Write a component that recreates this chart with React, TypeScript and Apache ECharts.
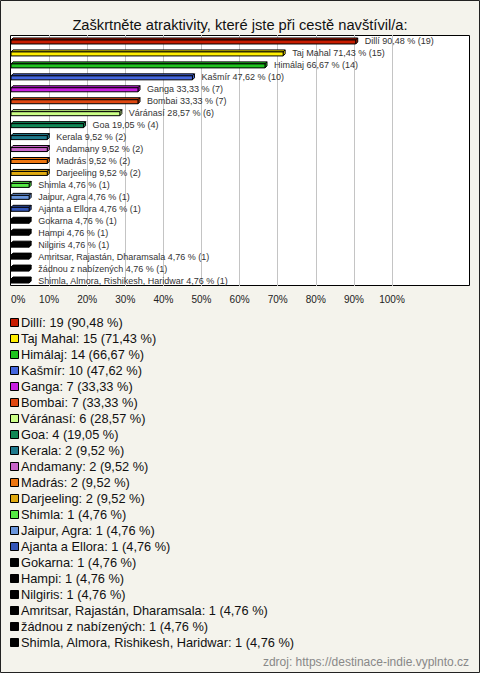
import React, { useEffect, useRef } from "react";
import * as echarts from "echarts";

const TITLE = "Zaškrtněte atraktivity, které jste při cestě navštívil/a:";
const SOURCE = "zdroj: https://destinace-indie.vyplnto.cz";

const categories = [
  "Dillí",
  "Taj Mahal",
  "Himálaj",
  "Kašmír",
  "Ganga",
  "Bombai",
  "Váránasí",
  "Goa",
  "Kerala",
  "Andamany",
  "Madrás",
  "Darjeeling",
  "Shimla",
  "Jaipur, Agra",
  "Ajanta a Ellora",
  "Gokarna",
  "Hampi",
  "Nilgiris",
  "Amritsar, Rajastán, Dharamsala",
  "žádnou z nabízených",
  "Shimla, Almora, Rishikesh, Haridwar",
];

const counts = [19, 15, 14, 10, 7, 7, 6, 4, 2, 2, 2, 2, 1, 1, 1, 1, 1, 1, 1, 1, 1];

const percents = [
  90.48, 71.43, 66.67, 47.62, 33.33, 33.33, 28.57, 19.05, 9.52, 9.52, 9.52, 9.52,
  4.76, 4.76, 4.76, 4.76, 4.76, 4.76, 4.76, 4.76, 4.76,
];

const colors = [
  "#c81c00",
  "#ffee00",
  "#1fc41f",
  "#4466dd",
  "#c81ee0",
  "#e04812",
  "#ccff88",
  "#118855",
  "#1f7a8c",
  "#c864c8",
  "#ee7711",
  "#e0aa10",
  "#55e844",
  "#6a96dc",
  "#3355b8",
  "#000000",
  "#000000",
  "#000000",
  "#000000",
  "#000000",
  "#000000",
];

const xTicks = [0, 10, 20, 30, 40, 50, 60, 70, 80, 90, 100];

const FONT = 'Arial, "Liberation Sans", sans-serif';

function fmt(v: number) {
  return v.toFixed(2).replace(".", ",");
}

export default function App() {
  const ref = useRef<HTMLDivElement>(null);

  useEffect(() => {
    if (!ref.current) return;
    const chart = echarts.init(ref.current, undefined, { renderer: "svg" });

    const data = categories.map((c, i) => [percents[i], i]);

    const legendEls: any[] = [];
    categories.forEach((c, i) => {
      const yc = 322.5 + 16 * i;
      legendEls.push({
        type: "rect",
        shape: { x: 10.5, y: yc - 4, width: 8, height: 8 },
        style: { fill: colors[i], stroke: "#000", lineWidth: 1 },
      });
      legendEls.push({
        type: "text",
        x: 21,
        y: yc,
        style: {
          text: `${c}: ${counts[i]} (${fmt(percents[i])} %)`,
          font: `12.8px ${FONT}`,
          fill: "#111",
          verticalAlign: "middle",
          align: "left",
        },
      });
    });

    chart.setOption({
      animation: false,
      backgroundColor: "#f4f3ec",
      title: {
        text: TITLE,
        left: "center",
        top: 12,
        textStyle: { fontFamily: FONT, fontSize: 14.7, fontWeight: "normal", color: "#111" },
      },
      grid: { left: 11, top: 35, width: 381, height: 251, containLabel: false },
      xAxis: {
        type: "value",
        min: xTicks[0],
        max: xTicks[xTicks.length - 1],
        interval: 10,
        axisLine: { show: false },
        axisTick: { show: false },
        axisLabel: {
          formatter: "{value}%",
          fontFamily: FONT,
          fontSize: 10,
          color: "#222",
          margin: 8,
          alignMinLabel: "left",
        },
        splitLine: { show: true, showMinLine: false, lineStyle: { color: "#c4c4c4", width: 1 } },
      },
      yAxis: {
        type: "category",
        data: categories,
        inverse: true,
        show: false,
      },
      graphic: [
        {
          type: "rect",
          z: -1,
          shape: { x: 10.5, y: 35.5, width: 459, height: 250 },
          style: { fill: "#ffffff", stroke: "#000", lineWidth: 1 },
        },
        {
          type: "rect",
          z: 100,
          shape: { x: 0.5, y: 0.5, width: 479, height: 672 },
          style: { fill: "none", stroke: "#222", lineWidth: 1 },
        },
        ...legendEls,
        {
          type: "text",
          x: 469,
          y: 662,
          style: {
            text: SOURCE,
            font: `12px ${FONT}`,
            fill: "#888",
            align: "right",
            verticalAlign: "middle",
          },
        },
      ],
      series: [
        {
          type: "custom",
          clip: false,
          data,
          encode: { x: 0, y: 1 },
          renderItem: (params: any, api: any) => {
            const idx = api.value(1);
            const v = api.value(0);
            const s = api.coord([0, idx]);
            const e = api.coord([v, idx]);
            const x0 = s[0];
            const x1 = e[0];
            const yc = e[1];
            const d = 2;
            const col = colors[idx];
            const st = { fill: col, stroke: "#000", lineWidth: 1 };
            return {
              type: "group",
              children: [
                {
                  type: "polygon",
                  shape: {
                    points: [
                      [x0, yc - 1],
                      [x0 + d, yc - 1 - d],
                      [x1 + d, yc - 1 - d],
                      [x1, yc - 1],
                    ],
                  },
                  style: st,
                },
                {
                  type: "polygon",
                  shape: {
                    points: [
                      [x1, yc - 1],
                      [x1 + d, yc - 1 - d],
                      [x1 + d, yc + 3 - d],
                      [x1, yc + 3],
                    ],
                  },
                  style: st,
                },
                {
                  type: "rect",
                  shape: { x: x0, y: yc - 1, width: x1 - x0, height: 4 },
                  style: st,
                },
                {
                  type: "text",
                  x: x1 + 9,
                  y: yc + 0.5,
                  style: {
                    text: `${categories[idx]} ${fmt(percents[idx])} % (${counts[idx]})`,
                    font: `9px ${FONT}`,
                    fill: "#333",
                    verticalAlign: "middle",
                    align: "left",
                  },
                },
              ],
            };
          },
        },
      ],
    });

    return () => chart.dispose();
  }, []);

  return (
    <div
      ref={ref}
      style={{ position: "fixed", left: 0, top: 0, width: 480, height: 673 }}
    />
  );
}
